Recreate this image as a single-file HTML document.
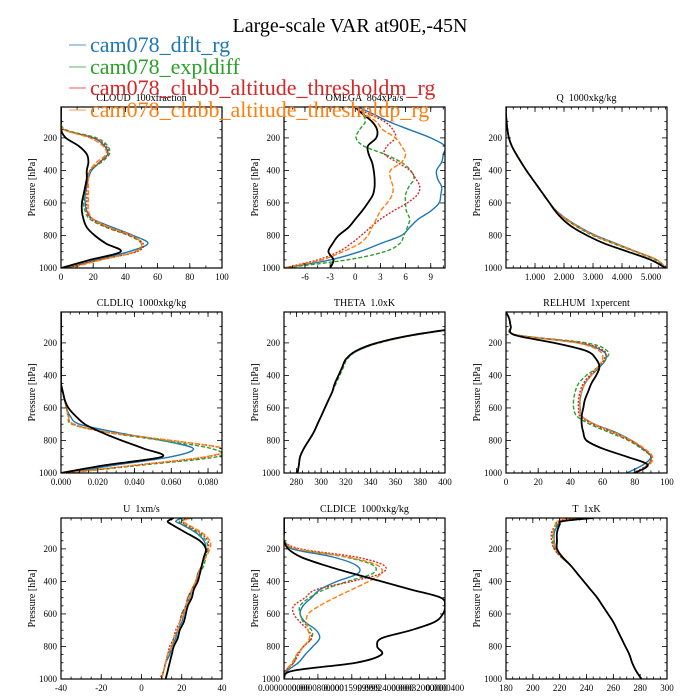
<!DOCTYPE html>
<html><head><meta charset="utf-8"><style>
body{margin:0;background:#fff;}
svg{display:block;font-family:"Liberation Serif",serif;}
text{white-space:pre;}
</style></head><body>
<svg id="fig" width="700" height="700" viewBox="0 0 700 700">
<text x="350" y="32" text-anchor="middle" font-size="20">Large-scale VAR at90E,-45N</text>
<g id="legend"></g>
<g id="panels"></g>
</svg>
<script>
const seriesNames = ["cam078_dflt_rg","cam078_expldiff","cam078_clubb_altitude_thresholdm_rg","cam078_clubb_altitude_thresholdp_rg"];
const seriesColors = ["#1f77b4","#2ca02c","#d62728","#ff7f0e"];
const levels = [10,50,100,150,200,250,300,350,400,450,500,550,600,650,700,750,800,850,900,950,1000];
const levelsTop = [10,30,50,100,150,200,250,300,350,400,450,500,550,600,650,700,750,800,850,900,950,1000];

// CLOUD
const cloudBlack = [0,0,0,0,3,11,16,17,16,16,15,14,13,13,14,16,21,28,37,18,0];
const cloudBlue = [0,0,0,2,20,27,29,24,19,17,16,15,15,16,20,32,45,54,42,22,4];
const cloudGreen = [0,0,0,3,22,29,30,25,18,16,15,15,14,15,18,28,42,50,46,24,3];
const cloudRed = [0,0,0,2,20,28,29,24,18,17,16,16,16,16,19,29,43,51,47,24,3];
const cloudOrange = [0,0,0,2,18,26,28,22,18,17,17,17,17,17,20,30,44,50,46,25,6];
// OMEGA
const omegaBlack = [0,0.8,2,2.6,2.5,1.5,1.6,2,2.2,2.3,2.3,2.1,1.5,0.8,0,-0.8,-2,-2.7,-3.2,-2.6,-3];
const omegaBlue = [0.3,2,4,6.5,9,10.7,10.5,10.3,9.7,9.8,10.3,10.2,10,9,7.5,6.5,5.5,3,0.5,-3,-8.5];
const omegaGreen = [0,0.8,1.2,0.5,0.1,1,3.5,5.5,6.6,7,6.4,6,6,6.1,6.5,6.2,5.8,5.3,3.5,-1,-8.5];
const omegaRed = [0,1.5,3.5,4.5,4.8,3.8,3.5,5,6.5,7.2,7.7,7.4,6.2,4.5,3,1.8,0.7,-0.5,-2,-4.5,-8.5];
const omegaOrange = [0,1,2.5,3.3,4.8,5.5,6,5.5,4.2,4.2,4.5,4.4,3.8,3,2.5,2,1.5,0.5,-1.5,-4,-8.5];
// Q
const qBlack = [0,0,0.02,0.05,0.1,0.2,0.35,0.52,0.7,0.9,1.1,1.3,1.5,1.7,1.95,2.3,2.8,3.4,4.2,5.0,5.5];
const qBlue = [0,0,0.02,0.05,0.1,0.2,0.36,0.53,0.7,0.9,1.1,1.3,1.5,1.75,2.1,2.55,3.1,3.8,4.5,5.2,5.5];
const qGreen = [0,0,0.02,0.05,0.1,0.2,0.36,0.53,0.7,0.9,1.1,1.3,1.5,1.73,2.05,2.48,3.0,3.7,4.45,5.15,5.5];
const qRed = [0,0,0.02,0.05,0.1,0.2,0.36,0.53,0.7,0.9,1.1,1.3,1.5,1.74,2.07,2.5,3.05,3.75,4.5,5.2,5.5];
const qOrange = [0,0,0.02,0.05,0.1,0.2,0.36,0.53,0.7,0.9,1.1,1.3,1.5,1.74,2.08,2.52,3.05,3.75,4.5,5.2,5.5];
// CLDLIQ
const liqBlack = [0,0,0,0,0,0,0,0,0,0,0.001,0.002,0.004,0.008,0.013,0.022,0.033,0.045,0.055,0.025,0];
const liqBlue = [0,0,0,0,0,0,0,0,0,0,0.001,0.002,0.003,0.005,0.01,0.03,0.055,0.072,0.06,0.03,0.003];
const liqGreen = [0,0,0,0,0,0,0,0,0,0,0.001,0.002,0.003,0.004,0.006,0.025,0.055,0.082,0.085,0.045,0.004];
const liqRed = [0,0,0,0,0,0,0,0,0,0,0.001,0.002,0.003,0.004,0.007,0.025,0.06,0.088,0.08,0.042,0.003];
const liqOrange = [0,0,0,0,0,0,0,0,0,0,0.001,0.002,0.003,0.004,0.007,0.026,0.06,0.089,0.079,0.042,0.003];
// THETA
const thBlack = [600,470,420,375,345,328,320,317,314,311,309,306,303,300,297,294,290,286,283,282,281];
const thBlue = [600,470,420,376,346,329,320,317,314,311,309,306,303,300,297,294,290,286,283,282,281];
const thGreen = [600,470,421,377,347,329,321,318,315,312,309,306,303,300,297,294,290,286,283,282,281];
const thRed = [600,470,420,376,346,328,320,317,314,311,309,306,303,300,297,294,290,286,283,282,281];
const thOrange = [600,470,420,376,346,328,320,317,314,311,309,306,303,300,297,294,290,286,283,282,281];
// RELHUM
const rhBlack = [0,2,3,5,30,50,56,58,56,53,51,49,48,47,47,48,50,60,75,88,80];
const rhBlue = [0,2,3,6,45,60,62,58,53,49,47,46,46,47,55,68,78,85,90,85,75];
const rhGreen = [0,2,3,6,50,63,62,57,50,45,43,42,42,44,52,64,76,84,90,88,80];
const rhRed = [0,2,3,6,47,61,61,57,52,48,46,45,45,46,54,66,77,85,90,88,79];
const rhOrange = [0,2,3,6,44,58,60,57,53,49,47,46,46,47,55,67,78,86,91,89,80];
// U (levelsTop)
const uBlack = [16,13,15,22,29,32,31,30,29,28,26,25,23,22,21,19,18,16,15,14,13,12];
const uBlue = [20,17,20,27,31,32,31,30,28,27,25,24,22,21,20,18,17,15,14,12,11,10];
const uGreen = [25,19,21,28,32,33,32,31,29,27,25,23,22,20,19,18,16,15,13,12,11,10];
const uRed = [22,20,22,29,33,33,31,30,29,27,25,23,22,20,19,17,16,14,13,12,11,9];
const uOrange = [24,21,23,30,34,34,32,30,28,27,25,24,22,21,19,18,16,15,13,12,11,10];
// CLDICE (units 1e-4)
const iceBlack = [0,0,0,0,0.1,0.4,0.95,1.6,2.3,3.0,3.7,3.8,3.75,3.55,3.0,2.3,2.2,2.3,1.7,0.2,0];
const iceBlue = [0,0,0,0,0.2,1.15,1.7,1.75,1.25,0.85,0.65,0.45,0.38,0.5,0.76,0.84,0.68,0.5,0.34,0.08,0];
const iceGreen = [0,0,0,0,0.3,1.45,2.1,2.1,1.5,0.95,0.6,0.38,0.38,0.46,0.65,0.65,0.46,0.3,0.23,0.04,0];
const iceRed = [0,0,0,0,0.38,1.7,2.35,2.3,1.6,0.76,0.5,0.23,0.23,0.38,0.57,0.65,0.46,0.34,0.23,0.04,0];
const iceOrange = [0,0,0,0,0.3,1.5,2.2,2.3,2.0,1.6,1.2,0.84,0.57,0.53,0.57,0.6,0.46,0.3,0.19,0.04,0];
// T (levelsTop)
const tBlack = [245,222,220,218,218,218,222,228,233,238,243,248,252,256,260,263,266,269,272,274,277,281];
const tBlue = [232,222,219,216,216,217,222,228,233,238,243,248,252,256,260,263,266,269,272,274,277,281];
const tGreen = [235,220,218,215,215,216,221,228,233,238,243,248,252,256,260,263,266,269,272,274,277,281];
const tRed = [228,219,217,214,214,216,221,228,233,238,243,248,252,256,260,263,266,269,272,274,277,281];
const tOrange = [232,218,217,215,216,217,222,228,233,238,243,248,252,256,260,263,266,269,272,274,277,281];

const panels = [
 {name:"cloud",title:"CLOUD  100xfraction",col:0,row:0,xmin:0,xmax:100,ticks:[0,20,40,60,80,100],labels:["0","20","40","60","80","100"],minor:10,lev:levels,s:[cloudBlue,cloudGreen,cloudRed,cloudOrange,cloudBlack]},
 {name:"omega",title:"OMEGA  864xPa/s",col:1,row:0,xmin:-8.5,xmax:10.7,ticks:[-6,-3,0,3,6,9],labels:["-6","-3","0","3","6","9"],minor:1.5,lev:levels,s:[omegaBlue,omegaGreen,omegaRed,omegaOrange,omegaBlack]},
 {name:"q",title:"Q  1000xkg/kg",col:2,row:0,xmin:0,xmax:5.55,ticks:[1,2,3,4,5],labels:["1.000","2.000","3.000","4.000","5.000"],minor:0.25,lev:levels,s:[qBlue,qGreen,qRed,qOrange,qBlack]},
 {name:"cldliq",title:"CLDLIQ  1000xkg/kg",col:0,row:1,xmin:0,xmax:0.0876,ticks:[0,0.02,0.04,0.06,0.08],labels:["0.000","0.020","0.040","0.060","0.080"],minor:0.005,lev:levels,s:[liqBlue,liqGreen,liqRed,liqOrange,liqBlack]},
 {name:"theta",title:"THETA  1.0xK",col:1,row:1,xmin:270,xmax:400,ticks:[280,300,320,340,360,380,400],labels:["280","300","320","340","360","380","400"],minor:5,lev:levels,s:[thBlue,thGreen,thRed,thOrange,thBlack]},
 {name:"relhum",title:"RELHUM  1xpercent",col:2,row:1,xmin:0,xmax:100,ticks:[0,20,40,60,80,100],labels:["0","20","40","60","80","100"],minor:5,lev:levels,s:[rhBlue,rhGreen,rhRed,rhOrange,rhBlack]},
 {name:"u",title:"U  1xm/s",col:0,row:2,xmin:-40,xmax:40,ticks:[-40,-20,0,20,40],labels:["-40","-20","0","20","40"],minor:5,lev:levelsTop,s:[uBlue,uGreen,uRed,uOrange,uBlack]},
 {name:"cldice",title:"CLDICE  1000xkg/kg",col:1,row:2,xmin:0,xmax:3.8,ticks:[0,0.8,1.6,2.4,3.2,3.8],labels:["0.0000000000","0.0000800000","0.00015999999","0.00024000000","0.00032000000","0.0000400"],minor:0.2,lev:levels,s:[iceBlue,iceGreen,iceRed,iceOrange,iceBlack]},
 {name:"t",title:"T  1xK",col:2,row:2,xmin:180,xmax:300,ticks:[180,200,220,240,260,280,300],labels:["180","200","220","240","260","280","300"],minor:5,lev:levelsTop,s:[tBlue,tGreen,tRed,tOrange,tBlack]}
];
const colX=[61,284,506], rowY=[107,312,518], W=161, H=161;
const NS="http://www.w3.org/2000/svg";
function mk(tag,attrs,parent){const e=document.createElementNS(NS,tag);for(const k in attrs)e.setAttribute(k,attrs[k]);parent.appendChild(e);return e;}
function smoothPath(pts){
  let d='M'+pts[0][0].toFixed(1)+','+pts[0][1].toFixed(1);
  for(let i=0;i<pts.length-1;i++){
    const p0=pts[i-1]||pts[i],p1=pts[i],p2=pts[i+1],p3=pts[i+2]||p2;
    const c1=[p1[0]+(p2[0]-p0[0])/6,p1[1]+(p2[1]-p0[1])/6];
    const c2=[p2[0]-(p3[0]-p1[0])/6,p2[1]-(p3[1]-p1[1])/6];
    d+='C'+c1[0].toFixed(1)+','+c1[1].toFixed(1)+' '+c2[0].toFixed(1)+','+c2[1].toFixed(1)+' '+p2[0].toFixed(1)+','+p2[1].toFixed(1);
  }
  return d;
}
const svg=document.getElementById('fig');
const defs=mk('defs',{},svg);
const pg=document.getElementById('panels');

// legend
const lg=document.getElementById('legend');
const legY=[52,74,95,117];
seriesNames.forEach((n,i)=>{
  const g=mk('g',{},lg);
  
  
  mk('line',{x1:69,x2:86,y1:legY[i]-7,y2:legY[i]-7,stroke:seriesColors[i],'stroke-width':1.2,opacity:0.6},g);
  const t=mk('text',{x:90,y:legY[i],'font-size':22,fill:seriesColors[i]},g);
  t.textContent=n;
});

const dashes=["", "4,2", "2,1.5", "5,2", ""];
const colors=[...seriesColors,"#000"];
panels.forEach((p,pi)=>{
  const x0=colX[p.col], y0=rowY[p.row];
  const g=mk('g',{},pg);
  
  
  const sx=v=>x0+(v-p.xmin)/(p.xmax-p.xmin)*W;
  const sy=v=>y0+(v-10)/990*H;
  const cp=mk('clipPath',{id:'c'+pi},defs);
  mk('rect',{x:x0,y:y0,width:W,height:H},cp);
  const tt=mk('text',{x:x0+W/2,y:y0-6,'text-anchor':'middle','font-size':10},g);
  
  
  tt.textContent=p.title;
  const yl=mk('text',{x:0,y:0,'text-anchor':'middle','font-size':10,transform:`translate(${x0-26},${y0+H/2}) rotate(-90)`},g);
  
  
  yl.textContent='Pressure [hPa]';
  const sg=mk('g',{'clip-path':`url(#c${pi})`},g);
  p.s.forEach((arr,si)=>{
    const pts=arr.map((v,k)=>[sx(v),sy(p.lev[k])]);
    const path=mk('path',{d:smoothPath(pts),fill:'none',stroke:colors[si],'stroke-width':si==4?1.8:1.4,'stroke-dasharray':dashes[si],'stroke-linejoin':'round'},sg);
    
    
  });
  const fr=mk('rect',{x:x0,y:y0,width:W,height:H,fill:'none',stroke:'#000','stroke-width':1.2},g);
  
  
  for(let v=100;v<=1000;v+=50){
    const y=sy(v); const maj=v%200==0; const L=maj?5:2.5;
    mk('line',{x1:x0,x2:x0+L,y1:y,y2:y,stroke:'#000','stroke-width':0.8},g);
    mk('line',{x1:x0+W,x2:x0+W-L,y1:y,y2:y,stroke:'#000','stroke-width':0.8},g);
    if(maj){const t=mk('text',{x:x0-4,y:y+3,'text-anchor':'end','font-size':9},g);t.textContent=v;}
  }
  for(let v=Math.ceil(p.xmin/p.minor)*p.minor;v<=p.xmax+1e-9;v+=p.minor){
    const x=sx(v);
    mk('line',{x1:x,x2:x,y1:y0+H,y2:y0+H-2.5,stroke:'#000','stroke-width':0.8},g);
    mk('line',{x1:x,x2:x,y1:y0,y2:y0+2.5,stroke:'#000','stroke-width':0.8},g);
  }
  p.ticks.forEach((v,k)=>{
    const x=sx(v);
    mk('line',{x1:x,x2:x,y1:y0+H,y2:y0+H-5,stroke:'#000','stroke-width':0.8},g);
    mk('line',{x1:x,x2:x,y1:y0,y2:y0+5,stroke:'#000','stroke-width':0.8},g);
    const t=mk('text',{x:x,y:y0+H+12,'text-anchor':'middle','font-size':9},g);
    t.textContent=p.labels[k];
  });
});
svg.appendChild(lg);
</script>
</body></html>
